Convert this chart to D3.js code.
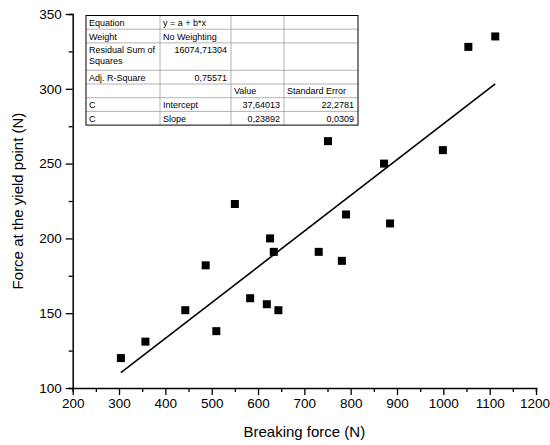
<!DOCTYPE html>
<html>
<head>
<meta charset="utf-8">
<script src="https://cdn.jsdelivr.net/npm/d3@7"></script>
<style>
  html, body { margin: 0; padding: 0; background: #fff; }
  svg { display: block; font-family: "Liberation Sans", Arial, sans-serif; }
</style>
</head>
<body>
<svg id="chart" width="550" height="445"></svg>
<script>
// Measured samples: breaking force vs. force at the yield point (N)
const breakingForce = [304, 357, 443, 487, 510, 550, 583, 619, 626, 634, 644, 731, 751, 781, 790, 872, 885, 999, 1054, 1112];
const yieldForce    = [120, 131, 152, 182, 138, 223, 160, 156, 200, 191, 152, 191, 265, 185, 216, 250, 210, 259, 328, 335];

// Linear fit y = a + b*x
const fitIntercept = 37.64013;
const fitSlope = 0.23892;
const fitInterceptErr = 22.2781;
const fitSlopeErr = 0.0309;
const residualSS = 16074.71304;
const adjR2 = 0.75571;

// Axis ticks
const xTicks = [200, 300, 400, 500, 600, 700, 800, 900, 1000, 1100, 1200];
const yTicks = [100, 150, 200, 250, 300, 350];

const W = 550;
const svg = d3.select("#chart");

const x = d3.scaleLinear().domain([200, 1200]).range([72.7, 536]);
const y = d3.scaleLinear().domain([100, 350]).range([388, 14]);

const comma = (v, d) => v.toFixed(d).replace(".", ",");

// Minor ticks halfway between major ones
const xMinor = xTicks.slice(0, -1).map(v => v + 50);
const yMinor = yTicks.slice(0, -1).map(v => v + 25);

const gx = svg.append("g").attr("transform", `translate(0,${y(100)})`);
gx.call(d3.axisBottom(x).tickValues(xTicks).tickSize(7).tickPadding(3).tickFormat(d3.format("d")));
gx.append("g").call(d3.axisBottom(x).tickValues(xMinor).tickSize(4).tickFormat(""));

const gy = svg.append("g").attr("transform", `translate(${x(200)},0)`);
gy.call(d3.axisLeft(y).tickValues(yTicks).tickSize(7).tickPadding(4).tickFormat(d3.format("d")));
gy.append("g").call(d3.axisLeft(y).tickValues(yMinor).tickSize(4).tickFormat(""));

svg.selectAll(".domain").attr("stroke", "#000").attr("stroke-width", 1.5);
svg.selectAll(".tick line").attr("stroke", "#000").attr("stroke-width", 1.3);
svg.selectAll(".tick text").attr("fill", "#000").style("font-size", "13.5px")
   .style("font-family", "'Liberation Sans', Arial, sans-serif");
// remove the domain end caps of the minor-tick overlays
gx.select("g .domain").remove();
gy.select("g .domain").remove();

// keep the last x tick label inside the drawing area
gx.selectAll(".tick text").each(function () {
  const b = this.getBBox();
  const tx = x(+d3.select(this.parentNode).datum());
  const overflow = tx + b.x + b.width - (W - 0.5);
  if (overflow > 0) d3.select(this).attr("x", -overflow);
});

// Axis titles
svg.append("text")
  .attr("x", (x(200) + x(1200)) / 2).attr("y", 437)
  .attr("text-anchor", "middle").style("font-size", "15px")
  .text("Breaking force (N)");

svg.append("text")
  .attr("transform", `translate(23,${(y(100) + y(350)) / 2}) rotate(-90)`)
  .attr("text-anchor", "middle").style("font-size", "15px")
  .text("Force at the yield point (N)");

// Fitted line across the data range
const xMin = d3.min(breakingForce), xMax = d3.max(breakingForce);
svg.append("line")
  .attr("x1", x(xMin)).attr("y1", y(fitIntercept + fitSlope * xMin))
  .attr("x2", x(xMax)).attr("y2", y(fitIntercept + fitSlope * xMax))
  .attr("stroke", "#000").attr("stroke-width", 1.6);

// Data points as filled squares
const sq = 8;
svg.append("g").selectAll("rect")
  .data(breakingForce.map((v, i) => [v, yieldForce[i]]))
  .join("rect")
  .attr("x", d => x(d[0]) - sq / 2).attr("y", d => y(d[1]) - sq / 2)
  .attr("width", sq).attr("height", sq).attr("fill", "#000");

// Fit summary table
const tableRows = [
  ["Equation", "y = a + b*x", "", ""],
  ["Weight", "No Weighting", "", ""],
  ["Residual Sum of|Squares", comma(residualSS, 5), "", ""],
  ["Adj. R-Square", comma(adjR2, 5), "", ""],
  ["", "", "Value", "Standard Error"],
  ["C", "Intercept", comma(fitIntercept, 5), comma(fitInterceptErr, 4)],
  ["C", "Slope", comma(fitSlope, 5), comma(fitSlopeErr, 4)]
];
const rowSpans = [1, 1, 2, 1, 1, 1, 1];
const colEdges = [86, 160, 231, 284, 358];
const rowH = 13.7, tableTop = 15.5;
const isNumber = s => /^[0-9,]+$/.test(s);

const tbl = svg.append("g").style("font-size", "9px");
let yy = tableTop;
const rowTops = [];
tableRows.forEach((row, r) => {
  rowTops.push(yy);
  row.forEach((cell, c) => {
    if (!cell) return;
    const lines = cell.split("|");
    const right = isNumber(cell);
    lines.forEach((ln, k) => {
      tbl.append("text")
        .attr("x", right ? colEdges[c + 1] - 4 : colEdges[c] + 3)
        .attr("y", yy + 10.3 + k * 10.5)
        .attr("text-anchor", right ? "end" : "start")
        .text(ln);
    });
  });
  yy += rowH * rowSpans[r];
});
const tableBottom = yy;
rowTops.slice(1).forEach(t => {
  tbl.append("line").attr("x1", colEdges[0]).attr("x2", colEdges[4])
    .attr("y1", t).attr("y2", t).attr("stroke", "#a0a0a0").attr("stroke-width", 0.8);
});
colEdges.slice(1, -1).forEach(cx => {
  tbl.append("line").attr("x1", cx).attr("x2", cx)
    .attr("y1", tableTop).attr("y2", tableBottom).attr("stroke", "#a0a0a0").attr("stroke-width", 0.8);
});
tbl.append("rect")
  .attr("x", colEdges[0]).attr("y", tableTop)
  .attr("width", colEdges[4] - colEdges[0]).attr("height", tableBottom - tableTop)
  .attr("fill", "none").attr("stroke", "#000").attr("stroke-width", 1);
</script>
</body>
</html>
